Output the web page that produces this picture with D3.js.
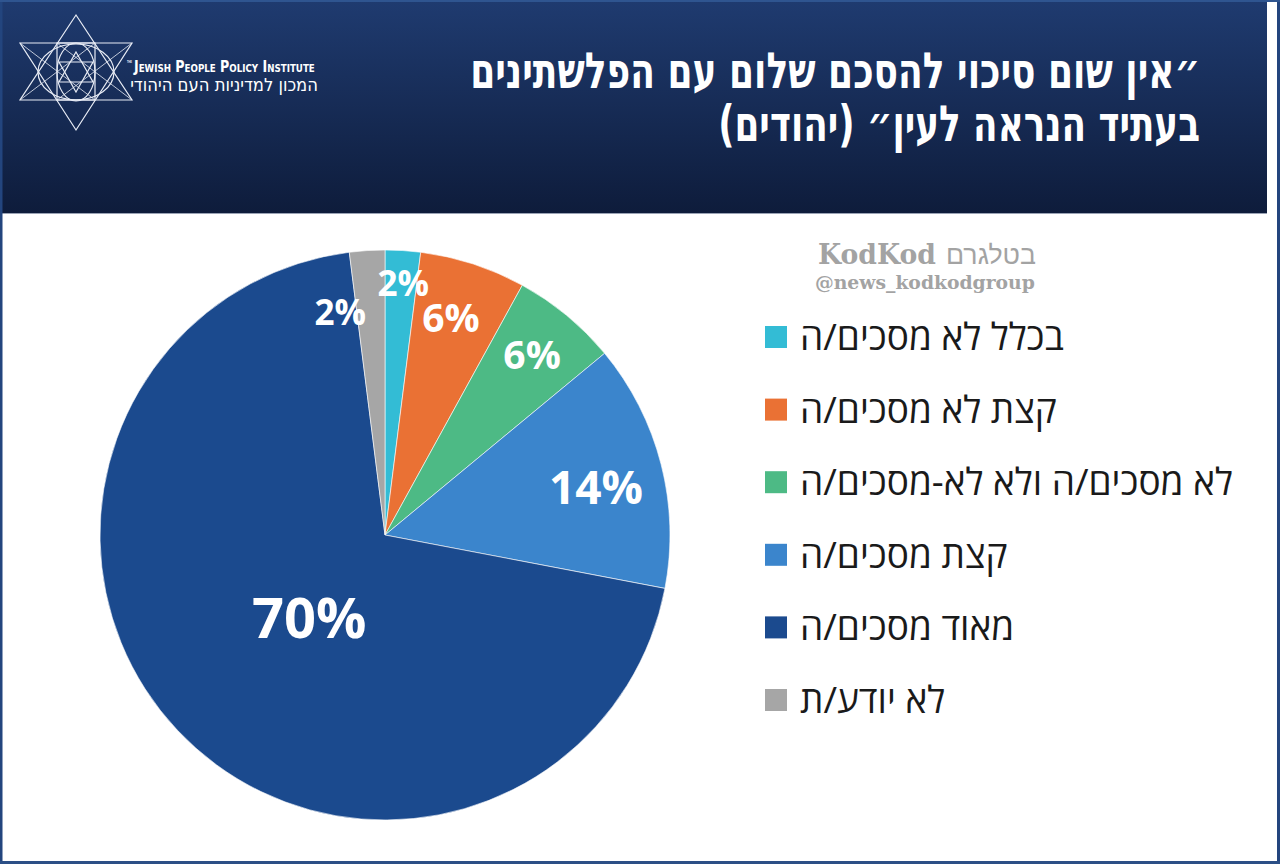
<!DOCTYPE html>
<html><head><meta charset="utf-8">
<script src="https://cdn.jsdelivr.net/npm/d3@7/dist/d3.min.js"></script>
<style>
html,body{margin:0;padding:0;background:#fff;}
svg{display:block;}
</style></head>
<body>
<svg id="chart" width="1280" height="864"></svg>
<script>
// ---- data ----
const categories = ["בכלל לא מסכים/ה","קצת לא מסכים/ה","לא מסכים/ה ולא לא-מסכים/ה","קצת מסכים/ה","מאוד מסכים/ה","לא יודע/ת"];
const values = [2, 6, 6, 14, 70, 2];
const valueLabels = ["2%","6%","6%","14%","70%","2%"];
const colors = ["#33bcd5","#ea7134","#4dba85","#3b85cc","#1b4a8e","#a6a6a6"];
const titleLines = ["״אין שום סיכוי להסכם שלום עם הפלשתינים","בעתיד הנראה לעין״ (יהודים)"];
const logoLines = ["THE","Jewish People Policy Institute","המכון למדיניות העם היהודי"];
const watermark = ["KodKod","בטלגרם","@news_kodkodgroup"];

const svg = d3.select("#chart");
const W = 1280, H = 864;

// scale a text horizontally so that its width equals w, keeping x-anchor ax fixed
function fitWidth(sel, w, ax){
  const n = sel.node();
  const nat = n.getBBox().width;
  if (nat > 0){
    const k = w / nat;
    sel.attr("transform", `translate(${ax},0) scale(${k},1) translate(${-ax},0)`);
  }
  return sel;
}

// ---- frame & header ----
const defs = svg.append("defs");
const g1 = defs.append("linearGradient").attr("id","hdr").attr("x1",0).attr("y1",0).attr("x2",0).attr("y2",1);
g1.append("stop").attr("offset","0%").attr("stop-color","#1f3b70");
g1.append("stop").attr("offset","100%").attr("stop-color","#0e1c3b");

svg.append("rect").attr("x",0).attr("y",0).attr("width",W).attr("height",H).attr("fill","#fff");
svg.append("rect").attr("x",2).attr("y",0).attr("width",1265).attr("height",213).attr("fill","url(#hdr)");
svg.append("line").attr("x1",2).attr("x2",1267).attr("y1",213.5).attr("y2",213.5).attr("stroke","#9aa3b5").attr("stroke-width",1);
// borders
svg.append("rect").attr("x",0).attr("y",0).attr("width",2.5).attr("height",H).attr("fill","#23457e");
svg.append("rect").attr("x",1277).attr("y",0).attr("width",3).attr("height",H).attr("fill","#23457e");
svg.append("rect").attr("x",0).attr("y",861).attr("width",W).attr("height",3).attr("fill","#2c4f86");
svg.append("rect").attr("x",0).attr("y",0).attr("width",W).attr("height",2).attr("fill","#2f5590");

// ---- logo ----
const logo = svg.append("g").attr("stroke","#e8ecf5").attr("stroke-width",1.2).attr("fill","none");
const cx0 = 76;
logo.append("path").attr("d",`M${cx0},15 L132,100 L20,100 Z`);
logo.append("path").attr("d",`M${cx0},130 L132,43 L20,43 Z`);
logo.append("rect").attr("x",57).attr("y",43).attr("width",38).attr("height",57);
logo.append("ellipse").attr("cx",cx0).attr("cy",72).attr("rx",38).attr("ry",28);
logo.append("ellipse").attr("cx",cx0).attr("cy",72).attr("rx",19).attr("ry",29);
logo.append("path").attr("d",`M${cx0},52 L93,82 L59,82 Z`);
logo.append("path").attr("d",`M${cx0},92 L93,62 L59,62 Z`);
logo.append("path").attr("d",`M20,43 L95,100 M132,43 L57,100 M20,100 L95,43 M132,100 L57,43`).attr("stroke-width",0.8);

fitWidth(svg.append("text").attr("x",127).attr("y",63).attr("font-family","Liberation Sans Narrow, Liberation Sans, sans-serif")
  .attr("font-size",4).attr("font-weight","bold").attr("fill","#fff").text(logoLines[0]), 5, 127);
fitWidth(svg.append("text").attr("x",134).attr("y",72).attr("font-family","DejaVu Sans Condensed, Liberation Sans Narrow, sans-serif")
  .attr("font-size",15).attr("font-variant","small-caps").attr("font-weight","bold").attr("fill","#fff")
  .text(logoLines[1]), 191, 134);
fitWidth(svg.append("text").attr("x",318).attr("y",91).attr("direction","rtl").attr("text-anchor","start")
  .attr("font-family","DejaVu Sans Condensed, Liberation Sans, sans-serif").attr("font-size",18).attr("fill","#fff")
  .text(logoLines[2]), 188, 318);

// ---- title ----
const titleW = [730, 482];
titleLines.forEach((t,i)=>{
  const tx = svg.append("text").attr("x",1200).attr("y",88 + i*53).attr("direction","rtl").attr("text-anchor","start")
    .attr("font-family","DejaVu Sans Condensed, Liberation Sans, sans-serif").attr("font-weight","bold")
    .attr("font-size",50).attr("fill","#fff").text(t);
  fitWidth(tx, titleW[i], 1200);
});

// ---- watermark ----
const wm = svg.append("g").attr("fill","#a3a3a3");
fitWidth(wm.append("text").attr("x",818).attr("y",264).attr("font-family","DejaVu Serif, Liberation Serif, serif")
  .attr("font-weight","bold").attr("font-size",28).text(watermark[0]), 118, 818);
fitWidth(wm.append("text").attr("x",1036).attr("y",264).attr("direction","rtl").attr("text-anchor","start")
  .attr("font-family","Liberation Sans, DejaVu Sans, sans-serif").attr("font-size",26).text(watermark[1]), 90, 1036);
fitWidth(wm.append("text").attr("x",815).attr("y",289).attr("font-family","DejaVu Serif, Liberation Serif, serif")
  .attr("font-weight","bold").attr("font-size",18).text(watermark[2]), 220, 815);

// ---- pie ----
const cx = 385, cy = 535, R = 285;
const pie = d3.pie().sort(null).value(d=>d)(values);
const arc = d3.arc().innerRadius(0).outerRadius(R);
const pg = svg.append("g").attr("transform",`translate(${cx},${cy})`);
pg.selectAll("path").data(pie).join("path")
  .attr("d",arc).attr("fill",(d,i)=>colors[i]).attr("stroke","#fff").attr("stroke-width",0.6);

// label layout (radius factor, angle offset in degrees, font size)
const labelLayout = [
  {rf:0.89, da:0.5, fs:35},
  {rf:0.80, da:-1.2, fs:39},
  {rf:0.82, da:-0.6, fs:39},
  {rf:0.76, da:1.4, fs:46},
  {rf:0.39, da:-3.8, fs:56},
  {rf:0.80, da:-7.7, fs:35}
];
pg.selectAll("text").data(pie).join("text")
  .attr("x",(d,i)=>{const a=(d.startAngle+d.endAngle)/2 + labelLayout[i].da*Math.PI/180; return Math.sin(a)*R*labelLayout[i].rf;})
  .attr("y",(d,i)=>{const a=(d.startAngle+d.endAngle)/2 + labelLayout[i].da*Math.PI/180; return -Math.cos(a)*R*labelLayout[i].rf;})
  .attr("text-anchor","middle").attr("dominant-baseline","central")
  .attr("font-family","Open Sans, Liberation Sans, sans-serif").attr("font-weight","bold")
  .attr("font-size",(d,i)=>labelLayout[i].fs).attr("fill","#fff")
  .text((d,i)=>valueLabels[i]);

// ---- legend ----
const ly = d3.scalePoint().domain(d3.range(categories.length)).range([337,700]);
const lg = svg.append("g");
categories.forEach((c,i)=>{
  lg.append("rect").attr("x",765).attr("y",ly(i)-11).attr("width",22).attr("height",22).attr("fill",colors[i]);
  lg.append("text").attr("x",800).attr("y",ly(i)+13).attr("direction","rtl").attr("text-anchor","end")
    .attr("font-family","Open Sans, Liberation Sans, DejaVu Sans, sans-serif").attr("font-size",37).attr("fill","#1a1a1a")
    .text(c);
});
</script>
</body></html>
